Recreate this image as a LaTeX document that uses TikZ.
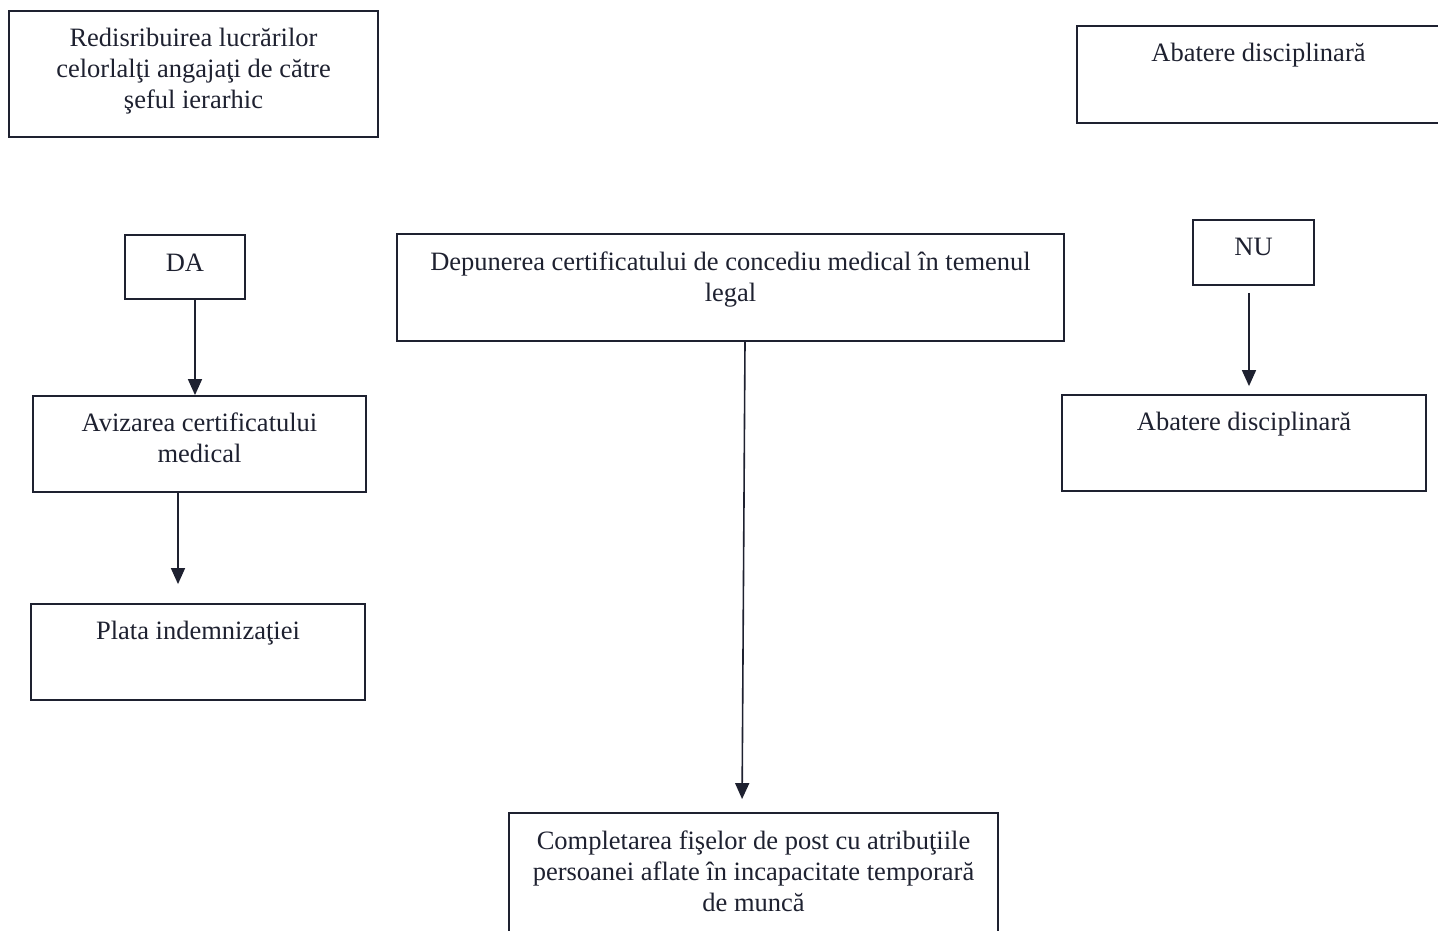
\documentclass[tikz,border=0pt]{standalone}
\usepackage{fontspec}
\setmainfont{Liberation Serif}
\usetikzlibrary{arrows.meta}
\definecolor{ink}{HTML}{1E2130}
\begin{document}
\begin{tikzpicture}[x=1pt,y=-1pt,
  box/.style={draw=ink, line width=1.8pt, inner sep=0pt, rectangle},
  lbl/.style={text=ink, inner sep=0pt, align=center, anchor=north, font=\fontsize{26.5}{31}\selectfont},
  arr/.style={draw=ink, line width=1.6pt, -{Triangle[width=14pt,length=16pt]}}]
\useasboundingbox (0,0) rectangle (1438,931);
% boxes
\node[box, minimum width=369pt, minimum height=126pt] (b1) at (193.5,74) {};
\node[box, minimum width=363pt, minimum height=97pt] (b2) at (1258.5,74.5) {};
\node[box, minimum width=120pt, minimum height=64pt] (da) at (185,267) {};
\node[box, minimum width=667pt, minimum height=107pt] (dep) at (730.5,287.5) {};
\node[box, minimum width=121pt, minimum height=65pt] (nu) at (1253.5,252.5) {};
\node[box, minimum width=333pt, minimum height=96pt] (aviz) at (199.5,444) {};
\node[box, minimum width=364pt, minimum height=96pt] (ab2) at (1244,443) {};
\node[box, minimum width=334pt, minimum height=96pt] (plata) at (198,652) {};
\node[box, minimum width=489pt, minimum height=127pt] (comp) at (753.5,876.5) {};
% texts
\node[lbl] (t1) at ([yshift=-15pt]b1.north) {\strut Redisribuirea lucrărilor\\celorlalţi angajaţi de către\\şeful ierarhic};
\node[lbl] (t2) at ([yshift=-14.5pt]b2.north) {\strut Abatere disciplinară};
\node[lbl] (tda) at ([yshift=-15pt]da.north) {\strut DA};
\node[lbl] (tdep) at ([yshift=-15pt]dep.north) {\strut Depunerea certificatului de concediu medical în temenul\\legal};
\node[lbl] (tnu) at ([yshift=-14.5pt]nu.north) {\strut NU};
\node[lbl] (taviz) at ([yshift=-14.5pt]aviz.north) {\strut Avizarea certificatului\\medical};
\node[lbl] (tab2) at ([yshift=-14.5pt]ab2.north) {\strut Abatere disciplinară};
\node[lbl] (tplata) at ([yshift=-14.5pt]plata.north) {\strut Plata indemnizaţiei};
\node[lbl] (tcomp) at ([yshift=-15pt]comp.north) {\strut Completarea fişelor de post cu atribuţiile\\persoanei aflate în incapacitate temporară\\de muncă};
% connectors
\draw[arr] ([xshift=10pt]da.south) -- ([xshift=10pt]da.south |- aviz.north);
\draw[arr, shorten >=19pt] ([xshift=-21.5pt]aviz.south) -- ([xshift=-21.5pt]aviz.south |- plata.north);
\draw[arr, shorten >=13pt] ([xshift=14.5pt]dep.south) -- ([xshift=-11.5pt]comp.north);
\draw[arr, shorten <=7pt, shorten >=8pt] ([xshift=-4.5pt]nu.south) -- ([xshift=-4.5pt]nu.south |- ab2.north);
\end{tikzpicture}
\end{document}
